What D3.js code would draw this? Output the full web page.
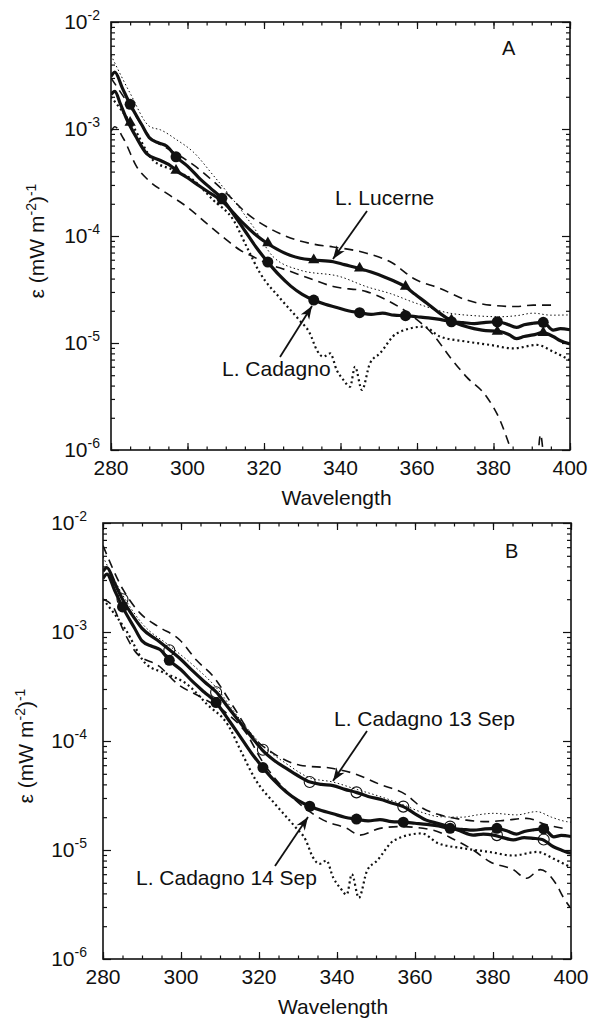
<!DOCTYPE html>
<html>
<head>
<meta charset="utf-8">
<title>Attenuation spectra, L. Lucerne and L. Cadagno</title>
<script src="https://d3js.org/d3.v7.min.js"></script>
<style>
body { margin: 0; background: #fff; }
svg { font-family: "Liberation Sans", Arial, sans-serif; }
text { fill: #111; }
</style>
</head>
<body>
<script>
// ---- values: [wavelength nm, epsilon] ----
var wlTicks = [280, 300, 320, 340, 360, 380, 400];
var decadeExps = [-6, -5, -4, -3, -2];

// L. Cadagno (panel A) == L. Cadagno 14 Sep (panel B)
var cadagnoMean = [[280,3.1e-3],[281,3.4e-3],[283,2.4e-3],[285,1.7e-3],[288,1.1e-3],[290,8.3e-4],[292.5,7.4e-4],[294.6,6.9e-4],[297,5.5e-4],[300,4.5e-4],[303,3.5e-4],[306,2.8e-4],[309,2.25e-4],[312,1.6e-4],[315,1.12e-4],[318,7.8e-5],[321,5.7e-5],[324,4.3e-5],[327,3.4e-5],[330,2.85e-5],[333,2.52e-5],[336,2.3e-5],[339,2.15e-5],[342,2.0e-5],[345,1.92e-5],[348,1.85e-5],[351,1.9e-5],[354,1.82e-5],[357,1.8e-5],[360,1.76e-5],[363,1.72e-5],[366,1.66e-5],[369,1.58e-5],[372,1.55e-5],[375,1.52e-5],[378,1.56e-5],[381,1.58e-5],[383.5,1.5e-5],[386,1.4e-5],[388,1.48e-5],[390.4,1.53e-5],[393,1.56e-5],[395.6,1.32e-5],[397.5,1.36e-5],[400,1.33e-5]];
var cadagnoMarks = [[285,1.7e-3],[297,5.5e-4],[309,2.25e-4],[321,5.7e-5],[333,2.52e-5],[345,1.92e-5],[357,1.8e-5],[369,1.58e-5],[381,1.58e-5],[393,1.56e-5]];
var cadagnoHigh = [[280,4.9e-3],[285,2.16e-3],[290.2,1.05e-3],[293,9.8e-4],[297,8.0e-4],[301.5,6.1e-4],[306.7,3.7e-4],[312,2.17e-4],[317.2,1.22e-4],[322.4,6.4e-5],[329.4,4.8e-5],[339.9,4.17e-5],[346.8,3.36e-5],[353,2.9e-5],[359.8,2.35e-5],[368.6,1.9e-5],[375,1.8e-5],[381.7,1.76e-5],[386,1.8e-5],[390.4,1.9e-5],[395,1.82e-5],[400,1.83e-5]];
var cadagnoLow = [[280,2.0e-3],[285.8,1.05e-3],[291,5.1e-4],[296.3,4.14e-4],[301.5,3.33e-4],[306.7,2.17e-4],[312,1.41e-4],[315.5,7.9e-5],[319,4.48e-5],[324.2,2.62e-5],[329.2,1.64e-5],[332,1.23e-5],[333.8,8.6e-6],[335.5,7.45e-6],[337.3,8.0e-6],[339,5.6e-6],[340.8,4.5e-6],[342.5,3.9e-6],[343.8,6.0e-6],[345.6,3.64e-6],[347.7,6.45e-6],[350.3,8.0e-6],[354.7,1.23e-5],[361.7,1.42e-5],[366,1.15e-5],[373,1.03e-5],[379.1,9.6e-6],[385.2,8.9e-6],[391.3,9.6e-6],[395.6,8.3e-6],[400,6.9e-6]];

// L. Lucerne (panel A)
var lucerneMean = [[280,2.1e-3],[281,2.25e-3],[282.5,1.7e-3],[284,1.26e-3],[286.5,8.5e-4],[289.3,5.9e-4],[292.8,5.1e-4],[295.9,4.45e-4],[297,4.1e-4],[300,3.5e-4],[303.3,2.9e-4],[306,2.5e-4],[309.2,2.1e-4],[312,1.65e-4],[314.6,1.31e-4],[317.5,1.05e-4],[320.7,8.6e-5],[323.5,7.5e-5],[326.8,6.6e-5],[329.5,6.2e-5],[332.9,5.97e-5],[338.1,5.75e-5],[341,5.4e-5],[344.7,5.0e-5],[348,4.6e-5],[351.3,4.17e-5],[354,3.8e-5],[356.9,3.37e-5],[359.5,2.85e-5],[362.6,2.35e-5],[365.5,1.95e-5],[368.6,1.64e-5],[373,1.42e-5],[377,1.32e-5],[381.7,1.28e-5],[384,1.2e-5],[386,1.1e-5],[388,1.15e-5],[390.4,1.19e-5],[392.8,1.25e-5],[395.6,1.15e-5],[397.5,1.05e-5],[400,9.8e-6]];
var lucerneMarks = [[285,1.15e-3],[297,4.1e-4],[309,2.12e-4],[321,8.6e-5],[333,5.97e-5],[345,5.0e-5],[357,3.37e-5],[369,1.64e-5],[381,1.28e-5],[393,1.25e-5]];
var lucerneHigh = [[280,3.0e-3],[285,1.62e-3],[290,8.6e-4],[295,6.5e-4],[299.8,5.1e-4],[303.3,4.14e-4],[306.5,3.3e-4],[310.2,2.5e-4],[315.5,1.63e-4],[320.7,1.22e-4],[325.9,9.9e-5],[332.9,8.4e-5],[338.1,7.9e-5],[346.8,6.9e-5],[353.7,5.56e-5],[359,4.03e-5],[366,3.24e-5],[373,2.52e-5],[379.1,2.26e-5],[386,2.19e-5],[390.4,2.26e-5],[395.6,2.26e-5]];
var lucerneLow = [[280,9.5e-4],[281,1.05e-3],[283.2,8.2e-4],[286.7,4.45e-4],[290.2,3.22e-4],[294.6,2.5e-4],[299.8,1.88e-4],[305,1.31e-4],[310.2,9.2e-5],[313.7,7.4e-5],[317.2,6.4e-5],[321,5.5e-5],[325.9,4.8e-5],[332,4.0e-5],[338.1,3.37e-5],[346.8,3.02e-5],[352.1,2.52e-5],[359,1.76e-5],[364.3,1.19e-5],[368.6,7.4e-6],[373,4.8e-6],[378.2,3.15e-6],[381.7,1.9e-6],[384.3,1.07e-6],[385.5,8e-7]];
var lucerneLowTail = [[391.6,8e-7],[392.3,1.4e-6],[392.9,1.0e-6]];

// L. Cadagno 13 Sep (panel B)
var sep13Mean = [[280,3.6e-3],[281,3.9e-3],[283,2.8e-3],[285,2.0e-3],[288,1.35e-3],[290,1.08e-3],[294,8.4e-4],[297.2,6.8e-4],[300,5.6e-4],[303,4.4e-4],[306,3.5e-4],[309.1,2.8e-4],[312,2.05e-4],[315,1.5e-4],[318,1.1e-4],[320.8,8.3e-5],[324,6.6e-5],[327,5.6e-5],[330,4.8e-5],[333.1,4.2e-5],[336,4.0e-5],[339,3.9e-5],[342,3.6e-5],[344.9,3.38e-5],[348,3.1e-5],[351.8,2.88e-5],[354,2.7e-5],[357,2.5e-5],[360,2.15e-5],[362.9,1.88e-5],[366,1.75e-5],[368.5,1.64e-5],[371.5,1.5e-5],[374.9,1.37e-5],[377.5,1.4e-5],[380.1,1.37e-5],[382.5,1.3e-5],[385.2,1.24e-5],[388,1.3e-5],[390.3,1.28e-5],[392.6,1.25e-5],[395.5,1.07e-5],[397.5,1.0e-5],[399.7,9.4e-6],[400,9.4e-6]];
var sep13Marks = [[285,2.0e-3],[297,6.8e-4],[309,2.8e-4],[321,8.3e-5],[333,4.2e-5],[345,3.38e-5],[357,2.5e-5],[369,1.64e-5],[381,1.37e-5],[393,1.25e-5]];
var sep13High = [[280,6.2e-3],[285.2,2.43e-3],[289.5,1.49e-3],[294.2,1.12e-3],[299.7,8.45e-4],[304,5.5e-4],[308.3,3.9e-4],[313.4,2.07e-4],[318.5,1.09e-4],[323.7,7.7e-5],[330.5,6.0e-5],[339,5.6e-5],[344.2,5.05e-5],[351,4.0e-5],[357.8,3.2e-5],[362.1,2.4e-5],[366.4,2.1e-5],[373.2,1.88e-5],[378.4,1.82e-5],[383.5,1.88e-5],[388.6,1.95e-5],[393.8,1.7e-5],[398,1.58e-5]];
var sep13Dot = [[280,4.9e-3],[285,2.2e-3],[290,1.2e-3],[297,7.5e-4],[303,5.0e-4],[309,3.1e-4],[315,1.6e-4],[321,9.0e-5],[327,6.2e-5],[333,4.6e-5],[339,4.2e-5],[345,3.6e-5],[351,3.1e-5],[357,2.6e-5],[362,2.2e-5],[366.4,2.02e-5],[372,2.0e-5],[376,2.1e-5],[380.1,2.17e-5],[386,2.1e-5],[391.2,2.25e-5],[395,2.0e-5],[398.9,1.82e-5],[400,1.8e-5]];
var sepLowDash = [[280,2.0e-3],[282.6,1.7e-3],[285.2,1.04e-3],[288.6,6.4e-4],[294.6,4.8e-4],[298.9,3.38e-4],[304.9,2.55e-4],[311.7,1.8e-4],[316.8,1.17e-4],[320.3,7.0e-5],[328,3.2e-5],[336.5,1.88e-5],[342.5,1.58e-5],[345.9,1.37e-5],[351,1.58e-5],[356.2,1.64e-5],[364.7,1.52e-5],[370,1.25e-5],[374.9,1.0e-5],[379.2,7.8e-6],[385.2,6.6e-6],[388.6,5.5e-6],[392.1,6.6e-6],[396.3,4.8e-6],[398,3.7e-6],[399.7,3.0e-6]];

var width = 591, height = 1022;
var svg = d3.select("body").append("svg")
  .attr("width", width).attr("height", height);

var defs = svg.append("defs");
defs.append("marker")
  .attr("id", "arrow")
  .attr("viewBox", "0 0 12 10")
  .attr("refX", 12).attr("refY", 5)
  .attr("markerWidth", 14).attr("markerHeight", 11)
  .attr("markerUnits", "userSpaceOnUse")
  .attr("orient", "auto")
  .append("path")
  .attr("d", "M0,0.5 L12,5 L0,9.5 L3.5,5 Z")
  .attr("fill", "#111");

var styles = {
  mean:  { w: 3.2, dash: null },
  dash:  { w: 1.6, dash: "9,6" },
  thick: { w: 2.2, dash: "2,3" },
  thin:  { w: 1.0, dash: "1.5,2.5" }
};

function drawPanel(cfg) {
  var x = d3.scaleLinear().domain([280, 400]).range([cfg.left, cfg.right]);
  var y = d3.scaleLog().domain([1e-6, 1e-2]).range([cfg.bottom, cfg.top]);
  var g = svg.append("g");

  g.append("clipPath").attr("id", "clip" + cfg.id)
    .append("rect")
    .attr("x", cfg.left).attr("y", cfg.top)
    .attr("width", cfg.right - cfg.left).attr("height", cfg.bottom - cfg.top);

  // ticks, all pointing inward
  var minorX = d3.range(280, 401, 5);
  var minorY = [];
  decadeExps.slice(0, -1).forEach(function(e) {
    d3.range(2, 10).forEach(function(k) { minorY.push(k * Math.pow(10, e)); });
  });
  var majorY = decadeExps.map(function(e) { return Math.pow(10, e); });

  function tickAxis(axis, pos, vals, size) {
    var a = g.append("g").attr("transform", pos)
      .call(axis.tickValues(vals).tickSize(size).tickFormat(""));
    a.select(".domain").remove();
    a.selectAll("line").attr("stroke", "#111").attr("stroke-width", 1.2);
  }
  tickAxis(d3.axisBottom(x), "translate(0," + cfg.bottom + ")", minorX, -3.5);
  tickAxis(d3.axisBottom(x), "translate(0," + cfg.bottom + ")", wlTicks, -7);
  tickAxis(d3.axisTop(x), "translate(0," + cfg.top + ")", minorX, -3.5);
  tickAxis(d3.axisTop(x), "translate(0," + cfg.top + ")", wlTicks, -7);
  tickAxis(d3.axisLeft(y), "translate(" + cfg.left + ",0)", minorY, -4);
  tickAxis(d3.axisLeft(y), "translate(" + cfg.left + ",0)", majorY, -8);
  tickAxis(d3.axisRight(y), "translate(" + cfg.right + ",0)", minorY, -4);
  tickAxis(d3.axisRight(y), "translate(" + cfg.right + ",0)", majorY, -8);

  g.append("rect")
    .attr("x", cfg.left).attr("y", cfg.top)
    .attr("width", cfg.right - cfg.left).attr("height", cfg.bottom - cfg.top)
    .attr("fill", "none").attr("stroke", "#111").attr("stroke-width", 1.6);

  // tick labels
  g.selectAll(".xl").data(wlTicks).enter().append("text")
    .attr("x", function(d) { return x(d); })
    .attr("y", cfg.bottom + 25)
    .attr("text-anchor", "middle")
    .attr("font-size", 21)
    .text(function(d) { return d; });

  var yl = g.selectAll(".yl").data(decadeExps).enter().append("text")
    .attr("x", cfg.left - cfg.labGap)
    .attr("y", function(d) { return y(Math.pow(10, d)) + 7; })
    .attr("text-anchor", "end")
    .attr("font-size", 21);
  yl.append("tspan").text("10");
  yl.append("tspan").attr("dy", -9).attr("font-size", 14)
    .text(function(d) { return "-" + (-d); });

  g.append("text")
    .attr("x", (cfg.left + cfg.right) / 2 - 4)
    .attr("y", cfg.bottom + 55)
    .attr("text-anchor", "middle")
    .attr("font-size", 21)
    .text("Wavelength");

  var yt = g.append("text")
    .attr("transform", "translate(" + cfg.yLabX + "," + ((cfg.top + cfg.bottom) / 2 + 5) + ") rotate(-90)")
    .attr("text-anchor", "middle")
    .attr("font-size", 21);
  yt.append("tspan").text("\u03b5 (mW m");
  yt.append("tspan").attr("dy", -8).attr("font-size", 14).text("-2");
  yt.append("tspan").attr("dy", 8).text(")");
  yt.append("tspan").attr("dy", -8).attr("font-size", 14).text("-1");

  g.append("text")
    .attr("x", cfg.letter[0]).attr("y", cfg.letter[1])
    .attr("font-size", 20)
    .text(cfg.id);

  // curves
  var line = d3.line()
    .x(function(d) { return x(d[0]); })
    .y(function(d) { return y(d[1]); })
    .curve(d3.curveMonotoneX);
  var plot = g.append("g").attr("clip-path", "url(#clip" + cfg.id + ")");
  cfg.series.forEach(function(s) {
    var st = styles[s.style];
    plot.append("path")
      .datum(s.data)
      .attr("d", line)
      .attr("fill", "none")
      .attr("stroke", "#111")
      .attr("stroke-width", st.w)
      .attr("stroke-dasharray", st.dash)
      .attr("stroke-linejoin", "round");
  });

  // markers
  cfg.marks.forEach(function(m) {
    if (m.shape === "tri") {
      plot.selectAll(null).data(m.data).enter().append("path")
        .attr("transform", function(d) { return "translate(" + x(d[0]) + "," + y(d[1]) + ")"; })
        .attr("d", d3.symbol().type(d3.symbolTriangle).size(55))
        .attr("fill", "#111");
    } else {
      plot.selectAll(null).data(m.data).enter().append("circle")
        .attr("cx", function(d) { return x(d[0]); })
        .attr("cy", function(d) { return y(d[1]); })
        .attr("r", 5.5)
        .attr("fill", m.shape === "open" ? "none" : "#111")
        .attr("stroke", "#111")
        .attr("stroke-width", m.shape === "open" ? 1.1 : 0);
    }
  });

  // annotations
  cfg.notes.forEach(function(n) {
    g.append("text")
      .attr("x", n.tx).attr("y", n.ty)
      .attr("font-size", 21)
      .text(n.text);
    g.append("line")
      .attr("x1", n.a[0]).attr("y1", n.a[1])
      .attr("x2", n.a[2]).attr("y2", n.a[3])
      .attr("stroke", "#111").attr("stroke-width", 1.8)
      .attr("marker-end", "url(#arrow)");
  });
}

drawPanel({
  id: "A", left: 111, right: 570, top: 22, bottom: 450, labGap: 11, yLabX: 44,
  letter: [502, 55],
  series: [
    { data: lucerneHigh, style: "dash" },
    { data: lucerneLow, style: "dash" },
    { data: lucerneLowTail, style: "dash" },
    { data: cadagnoHigh, style: "thin" },
    { data: cadagnoLow, style: "thick" },
    { data: lucerneMean, style: "mean" },
    { data: cadagnoMean, style: "mean" }
  ],
  marks: [
    { data: lucerneMarks, shape: "tri" },
    { data: cadagnoMarks, shape: "fill" }
  ],
  notes: [
    { text: "L. Lucerne", tx: 335, ty: 205, a: [367, 211, 333, 259] },
    { text: "L. Cadagno", tx: 222, ty: 376, a: [280, 357, 312, 306] }
  ]
});

drawPanel({
  id: "B", left: 103, right: 571, top: 523, bottom: 959, labGap: 16, yLabX: 33,
  letter: [505, 558],
  series: [
    { data: sep13High, style: "dash" },
    { data: sepLowDash, style: "dash" },
    { data: sep13Dot, style: "thin" },
    { data: cadagnoLow, style: "thick" },
    { data: sep13Mean, style: "mean" },
    { data: cadagnoMean, style: "mean" }
  ],
  marks: [
    { data: sep13Marks, shape: "open" },
    { data: cadagnoMarks, shape: "fill" }
  ],
  notes: [
    { text: "L. Cadagno 13 Sep", tx: 334, ty: 726, a: [367, 731, 333, 781] },
    { text: "L. Cadagno 14 Sep", tx: 136, ty: 885, a: [275, 866, 308, 817] }
  ]
});
</script>
</body>
</html>
